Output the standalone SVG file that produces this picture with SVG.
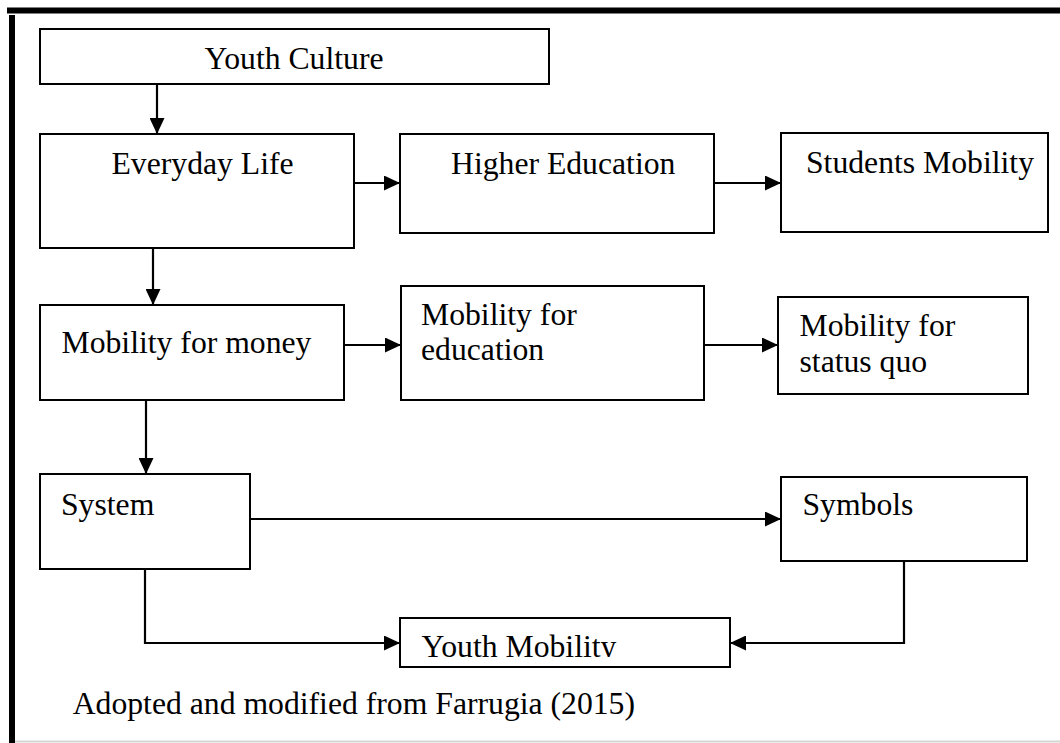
<svg xmlns="http://www.w3.org/2000/svg" width="1060" height="743" viewBox="0 0 1060 743">
  <style>
    .box { fill: #ffffff; stroke: #000000; stroke-width: 2; }
    .lbl { font-family: "Liberation Serif", "Times New Roman", serif; font-size: 31.7px; fill: #000000; }
    .wire { fill: none; stroke: #000000; stroke-width: 2.2; marker-end: url(#head); }
  </style>
  <defs>
    <marker id="head" markerUnits="userSpaceOnUse" markerWidth="16" markerHeight="15" refX="16" refY="7.5" orient="auto">
      <path d="M0,0 L16,7.5 L0,15 Z" fill="#000000"/>
    </marker>
    <clipPath id="ym-clip">
      <rect x="400" y="618" width="330" height="39"/>
    </clipPath>
  </defs>

  <rect x="0" y="0" width="1060" height="743" fill="#ffffff"/>

  <!-- page frame: heavy top and left rules, faint bottom rule -->
  <g id="frame">
    <rect x="7" y="7.5" width="1053" height="6" fill="#000000"/>
    <rect x="9" y="15" width="6" height="728" fill="#000000"/>
    <line x1="15" y1="741.5" x2="1060" y2="741.5" stroke="#d6d6d6" stroke-width="2"/>
  </g>

  <!-- connectors -->
  <g id="connectors">
    <path class="wire" d="M157,84 V134"/>
    <path class="wire" d="M354,183 H400"/>
    <path class="wire" d="M712,183 H781"/>
    <path class="wire" d="M153,248 V305"/>
    <path class="wire" d="M344,345 H401"/>
    <path class="wire" d="M704,345 H778"/>
    <path class="wire" d="M146,400 V474"/>
    <path class="wire" d="M250,519 H781"/>
    <path class="wire" d="M145,569 V643 H400"/>
    <path class="wire" d="M904,561 V643 H730"/>
  </g>

  <g id="youth-culture">
    <rect class="box" x="40" y="29" width="509" height="55"/>
    <text class="lbl" x="294" y="68.5" text-anchor="middle">Youth Culture</text>
  </g>

  <g id="everyday-life">
    <rect class="box" x="40" y="134" width="314" height="114"/>
    <text class="lbl" x="111.5" y="173.5">Everyday Life</text>
  </g>

  <g id="higher-education">
    <rect class="box" x="400" y="134" width="314" height="99"/>
    <text class="lbl" x="451" y="173.5">Higher Education</text>
  </g>

  <g id="students-mobility">
    <rect class="box" x="781" y="133" width="267" height="99"/>
    <text class="lbl" x="806" y="172.5">Students Mobility</text>
  </g>

  <g id="mobility-money">
    <rect class="box" x="40" y="305" width="304" height="95"/>
    <text class="lbl" x="61.5" y="352.5">Mobility for money</text>
  </g>

  <g id="mobility-education">
    <rect class="box" x="401" y="286" width="303" height="114"/>
    <text class="lbl" x="421" y="324.5">Mobility for</text>
    <text class="lbl" x="421" y="360">education</text>
  </g>

  <g id="mobility-status-quo">
    <rect class="box" x="778" y="297" width="250" height="97"/>
    <text class="lbl" x="799.5" y="336">Mobility for</text>
    <text class="lbl" x="799.5" y="372">status quo</text>
  </g>

  <g id="system">
    <rect class="box" x="40" y="474" width="210" height="95"/>
    <text class="lbl" x="61" y="515">System</text>
  </g>

  <g id="symbols">
    <rect class="box" x="781" y="477" width="246" height="84"/>
    <text class="lbl" x="802.5" y="515">Symbols</text>
  </g>

  <g id="youth-mobility">
    <rect class="box" x="400" y="618" width="330" height="49"/>
    <text class="lbl" x="421.5" y="656.5" clip-path="url(#ym-clip)">Youth Mobility</text>
  </g>

  <g id="caption">
    <text class="lbl" x="72.7" y="714">Adopted and modified from Farrugia (2015)</text>
  </g>
</svg>
